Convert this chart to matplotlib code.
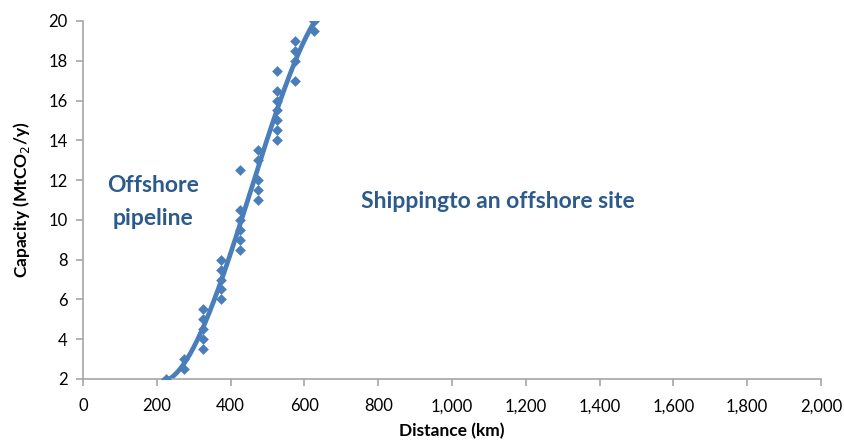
import matplotlib
matplotlib.use("Agg")
import matplotlib.pyplot as plt
from matplotlib.ticker import FuncFormatter
import numpy as np

plt.rcParams['font.family'] = ['Lato', 'DejaVu Sans']

# break-even points: distance (km) vs capacity (MtCO2/y)
distance = [225, 275, 275,
            325, 325, 325, 325, 325,
            375, 375, 375, 375, 375,
            425, 425, 425, 425, 425, 425,
            475, 475, 475, 475, 475,
            525, 525, 525, 525, 525, 525, 525,
            575, 575, 575, 575,
            625, 625]
capacity = [2.0, 2.5, 3.0,
            3.5, 4.0, 4.5, 5.0, 5.5,
            6.0, 6.5, 7.0, 7.5, 8.0,
            8.5, 9.0, 9.5, 10.0, 10.5, 12.5,
            11.0, 11.5, 12.0, 13.0, 13.5,
            14.0, 14.5, 15.0, 15.5, 16.0, 16.5, 17.5,
            17.0, 18.0, 18.5, 19.0,
            19.5, 20.0]

blue = '#4a7ebb'
text_blue = '#2c5a8c'
grey = '#a6a6a6'

fig = plt.figure(figsize=(8.45, 4.41), dpi=100)
ax = fig.add_axes([0.0982, 0.1406, 0.8734, 0.8118])

# polynomial trendline through the points
coef = np.polyfit(distance, capacity, 3)
xs = np.linspace(min(distance), max(distance), 200)
ax.plot(xs, np.polyval(coef, xs), color=blue, lw=3.4, solid_capstyle='round', zorder=2)
ax.scatter(distance, capacity, marker='D', s=30, color=blue, zorder=3, linewidths=0)

ax.set_xlim(0, 2000)
ax.set_ylim(2, 20)
ax.set_xticks(range(0, 2001, 200))
ax.set_yticks(range(2, 21, 2))
ax.xaxis.set_major_formatter(FuncFormatter(lambda v, p: f"{int(v):,}"))

for s in ['top', 'right']:
    ax.spines[s].set_visible(False)
for s in ['left', 'bottom']:
    ax.spines[s].set_color(grey)
    ax.spines[s].set_linewidth(1.2)
ax.tick_params(axis='both', colors=grey, labelcolor='black', labelsize=12, length=5, width=1.2)
ax.tick_params(axis='x', pad=9)
ax.tick_params(axis='y', pad=6)

ax.set_xlabel('Distance (km)', fontsize=12.5, fontweight='bold', labelpad=6)
ax.set_ylabel('Capacity (MtCO$_2$/y)', fontsize=12.5, fontweight='bold', labelpad=12)

ax.text(190, 10.9, 'Offshore\npipeline', ha='center', va='center', fontsize=16.5,
        fontweight='bold', color=text_blue, linespacing=1.75)
ax.text(1125, 10.9, 'Shippingto an offshore site', ha='center', va='center', fontsize=16.5,
        fontweight='bold', color=text_blue)

fig.savefig('out.png', dpi=100)
